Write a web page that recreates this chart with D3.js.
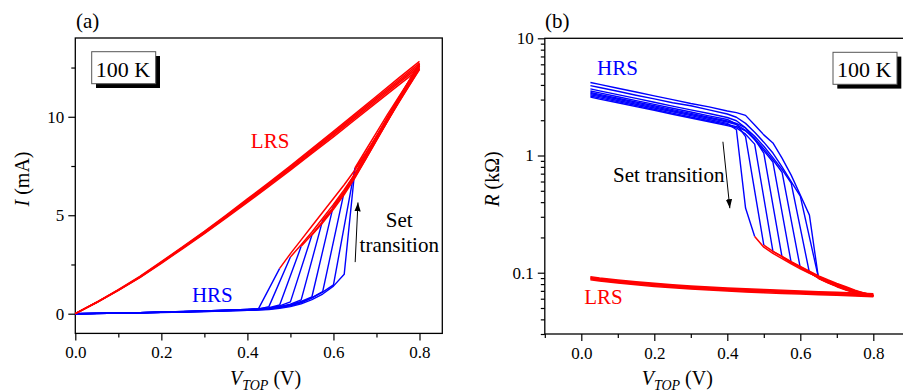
<!DOCTYPE html>
<html lang="en">
<head>
  <meta charset="UTF-8">
  <style>
    body { margin: 0; background: #fff; }
    svg { display: block; font-family: "Liberation Serif", "Times New Roman", serif; }
    .axis path { display: none; }
    .axis line { stroke: #000; stroke-width: 1.2; }
    .axis text { font-size: 17px; font-family: "Liberation Serif", serif; fill: #000; }
    .frame { fill: none; stroke: #000; stroke-width: 1.3; }
    .hrs { fill: none; stroke: #0000ff; stroke-width: 1.4; stroke-linejoin: round; }
    .lrs { fill: none; stroke: #ff0000; stroke-width: 1.5; stroke-linejoin: round; }
    .note { font-size: 21px; }
  </style>
</head>
<body>
  <svg width="903" height="392"></svg>
  <script src="https://cdnjs.cloudflare.com/ajax/libs/d3/7.8.5/d3.min.js"></script>
  <script>
    // shared voltage grids (V)
    const jumpVolts = [0.475, 0.5, 0.525, 0.55, 0.575, 0.6, 0.625, 0.65, 0.65]
    const setVolts = [0.475, 0.5, 0.525, 0.55, 0.575, 0.6, 0.625, 0.65, 0.675, 0.7, 0.725, 0.75, 0.775, 0.8]

    // panel (a): current (mA)
    const hrsVoltsA = [0, 0.05, 0.1, 0.15, 0.2, 0.25, 0.3, 0.35, 0.4, 0.425, 0.45, 0.475, 0.5, 0.525, 0.55, 0.575, 0.6, 0.625]
    const hrsCurrent = [
      [0, 0.016, 0.034, 0.055, 0.079, 0.106, 0.137, 0.172, 0.213, 0.22, 1.26],
      [0, 0.015, 0.032, 0.051, 0.073, 0.099, 0.128, 0.161, 0.197, 0.23, 0.36],
      [0, 0.017, 0.035, 0.057, 0.082, 0.111, 0.144, 0.180, 0.222, 0.25, 0.31, 0.44],
      [0, 0.014, 0.030, 0.049, 0.070, 0.095, 0.122, 0.154, 0.190, 0.21, 0.27, 0.40, 0.60],
      [0, 0.015, 0.033, 0.054, 0.077, 0.104, 0.134, 0.168, 0.207, 0.23, 0.28, 0.36, 0.48, 0.70],
      [0, 0.016, 0.035, 0.056, 0.081, 0.109, 0.141, 0.177, 0.217, 0.24, 0.28, 0.35, 0.46, 0.62, 0.86],
      [0, 0.015, 0.032, 0.052, 0.075, 0.102, 0.131, 0.165, 0.203, 0.23, 0.26, 0.33, 0.43, 0.58, 0.82, 1.12],
      [0, 0.013, 0.028, 0.046, 0.066, 0.089, 0.115, 0.144, 0.177, 0.20, 0.24, 0.31, 0.40, 0.55, 0.80, 1.10, 1.46],
      [0, 0.012, 0.027, 0.043, 0.062, 0.083, 0.108, 0.136, 0.167, 0.18, 0.21, 0.27, 0.36, 0.50, 0.72, 1.00, 1.40, 2.00]
    ]
    const setCurrent = [
      [2.30, 3.05, 3.75, 4.45, 5.15, 5.85, 6.55, 7.30, 8.10, 8.95, 9.85, 10.75, 11.65, 12.50],
      [2.88, 3.50, 4.15, 4.85, 5.55, 6.30, 7.10, 7.95, 8.85, 9.75, 10.65, 11.55, 12.45],
      [3.42, 4.02, 4.68, 5.40, 6.15, 6.95, 7.85, 8.80, 9.75, 10.70, 11.65, 12.60],
      [4.00, 4.62, 5.30, 6.05, 6.90, 7.85, 8.80, 9.75, 10.70, 11.65, 12.60],
      [4.75, 5.40, 6.15, 7.05, 8.00, 8.95, 9.90, 10.85, 11.80, 12.70],
      [5.50, 6.20, 7.10, 8.05, 9.00, 9.95, 10.90, 11.80, 12.70],
      [6.20, 7.10, 8.05, 9.00, 9.95, 10.85, 11.75, 12.60],
      [7.40, 8.30, 9.20, 10.10, 10.95, 11.80, 12.60],
      [7.35, 8.15, 9.00, 9.85, 10.70, 11.55, 12.40]
    ]
    const lrsVoltsA = [0, 0.05, 0.1, 0.15, 0.2, 0.25, 0.3, 0.35, 0.4, 0.45, 0.5, 0.55, 0.6, 0.65, 0.7, 0.75, 0.8]
    const lrsCurrent = [
      [0, 0.57, 1.18, 1.83, 2.56, 3.31, 4.06, 4.85, 5.65, 6.46, 7.29, 8.14, 8.98, 9.85, 10.72, 11.58, 12.43],
      [0, 0.58, 1.19, 1.85, 2.58, 3.34, 4.09, 4.89, 5.70, 6.51, 7.35, 8.20, 9.06, 9.93, 10.80, 11.68, 12.53],
      [0, 0.58, 1.20, 1.86, 2.60, 3.36, 4.12, 4.92, 5.74, 6.56, 7.40, 8.26, 9.12, 10.00, 10.88, 11.76, 12.62],
      [0, 0.58, 1.21, 1.87, 2.62, 3.38, 4.15, 4.95, 5.78, 6.61, 7.45, 8.32, 9.18, 10.07, 10.96, 11.84, 12.71],
      [0, 0.59, 1.22, 1.89, 2.64, 3.41, 4.18, 4.99, 5.83, 6.66, 7.51, 8.38, 9.26, 10.15, 11.04, 11.94, 12.81]
    ]

    // panel (b): resistance (kOhm)
    const hrsVoltsB = [0.025, 0.05, 0.1, 0.15, 0.2, 0.25, 0.3, 0.35, 0.4, 0.425, 0.45, 0.475, 0.5, 0.525, 0.55, 0.575, 0.6, 0.625]
    const hrsResistance = [
      [3.30, 3.18, 2.95, 2.74, 2.54, 2.36, 2.19, 2.03, 1.88, 1.66, 0.356],
      [3.55, 3.42, 3.17, 2.94, 2.73, 2.53, 2.35, 2.18, 2.03, 1.85, 1.45],
      [3.15, 3.03, 2.82, 2.61, 2.43, 2.25, 2.09, 1.94, 1.80, 1.72, 1.52, 1.25],
      [3.70, 3.56, 3.31, 3.07, 2.85, 2.64, 2.45, 2.28, 2.11, 1.98, 1.72, 1.38, 1.05],
      [3.38, 3.25, 3.02, 2.80, 2.60, 2.41, 2.24, 2.08, 1.93, 1.84, 1.64, 1.36, 1.10, 0.88],
      [3.22, 3.10, 2.88, 2.67, 2.48, 2.30, 2.13, 1.98, 1.84, 1.76, 1.62, 1.40, 1.14, 0.92, 0.72],
      [3.45, 3.32, 3.08, 2.86, 2.66, 2.46, 2.29, 2.12, 1.97, 1.88, 1.72, 1.46, 1.20, 0.96, 0.76, 0.58],
      [3.95, 3.80, 3.53, 3.27, 3.04, 2.82, 2.66, 2.45, 2.26, 2.12, 1.88, 1.58, 1.30, 1.05, 0.80, 0.60, 0.45],
      [4.20, 4.04, 3.75, 3.48, 3.23, 3.00, 2.78, 2.60, 2.40, 2.32, 2.20, 1.82, 1.50, 1.28, 0.95, 0.68, 0.46, 0.31]
    ]
    const setResistance = [
      [0.204, 0.165, 0.146, 0.132, 0.119, 0.108, 0.099, 0.092, 0.085, 0.079, 0.074, 0.070, 0.066, 0.0635],
      [0.172, 0.152, 0.137, 0.123, 0.112, 0.102, 0.093, 0.086, 0.080, 0.075, 0.070, 0.067, 0.064],
      [0.152, 0.138, 0.124, 0.113, 0.103, 0.094, 0.087, 0.081, 0.076, 0.071, 0.067, 0.064],
      [0.136, 0.122, 0.111, 0.101, 0.092, 0.085, 0.079, 0.074, 0.070, 0.066, 0.0635],
      [0.122, 0.111, 0.100, 0.091, 0.084, 0.078, 0.073, 0.069, 0.066, 0.063],
      [0.110, 0.100, 0.090, 0.083, 0.077, 0.072, 0.068, 0.065, 0.0635],
      [0.100, 0.090, 0.083, 0.077, 0.072, 0.068, 0.065, 0.0635],
      [0.090, 0.083, 0.077, 0.072, 0.068, 0.065, 0.064],
      [0.089, 0.082, 0.076, 0.071, 0.067, 0.064, 0.0632]
    ]
    const lrsVoltsB = [0.025, 0.05, 0.1, 0.15, 0.2, 0.25, 0.3, 0.35, 0.4, 0.45, 0.5, 0.55, 0.6, 0.65, 0.7, 0.75, 0.8]
    const lrsResistance = [
      [0.0872, 0.0849, 0.0816, 0.0788, 0.0764, 0.0744, 0.0726, 0.0711, 0.0697, 0.0686, 0.0676, 0.0666, 0.0658, 0.0649, 0.0641, 0.0632, 0.0625],
      [0.0886, 0.0862, 0.0828, 0.0800, 0.0776, 0.0755, 0.0737, 0.0722, 0.0708, 0.0696, 0.0687, 0.0677, 0.0668, 0.0659, 0.0651, 0.0642, 0.0634],
      [0.0899, 0.0875, 0.0841, 0.0812, 0.0788, 0.0767, 0.0748, 0.0733, 0.0719, 0.0707, 0.0697, 0.0687, 0.0678, 0.0669, 0.0661, 0.0652, 0.0644],
      [0.0912, 0.0888, 0.0854, 0.0824, 0.0800, 0.0779, 0.0759, 0.0744, 0.0730, 0.0718, 0.0707, 0.0697, 0.0688, 0.0679, 0.0671, 0.0662, 0.0654],
      [0.0926, 0.0901, 0.0866, 0.0836, 0.0812, 0.0790, 0.0770, 0.0755, 0.0741, 0.0728, 0.0718, 0.0708, 0.0698, 0.0689, 0.0681, 0.0672, 0.0663]
    ]

    // tick values
    const xMajor = [0, 0.2, 0.4, 0.6, 0.8]
    const xMinorA = [0.1, 0.3, 0.5, 0.7]
    const xMinorB = [-0.1, 0.1, 0.3, 0.5, 0.7]
    const yMajorA = [0, 5, 10]
    const yMinorA = [2.5, 7.5, 12.5]
    const yMajorB = [0.1, 1, 10]
    const yMinorB = [0.03, 0.04, 0.05, 0.06, 0.07, 0.08, 0.09, 0.2, 0.3, 0.4, 0.5, 0.6, 0.7, 0.8, 0.9, 2, 3, 4, 5, 6, 7, 8, 9]

    const svg = d3.select('svg')

    const xA = d3.scaleLinear().domain([0, 0.853]).range([75.3, 442.3])
    const yA = d3.scaleLinear().domain([-1, 14]).range([333.4, 38])
    const xB = d3.scaleLinear().domain([-0.1, 0.9]).range([544.8, 909.8])
    const yB = d3.scaleLog().domain([0.03, 10]).range([334, 38.3])

    svg.append('defs').append('marker')
        .attr('id', 'head')
        .attr('viewBox', '0 0 10 10')
        .attr('refX', 10).attr('refY', 5)
        .attr('markerWidth', 9).attr('markerHeight', 9)
        .attr('markerUnits', 'userSpaceOnUse')
        .attr('orient', 'auto')
      .append('path')
        .attr('d', 'M0,1.5 L10,5 L0,8.5 z')
        .attr('fill', '#000')

    function axes(x, y, yMajor, xMinor, yMinor, yFormat) {
      const [x0] = x.range(), [y0] = y.range()
      svg.append('g').attr('class', 'axis')
          .attr('transform', `translate(0,${y0})`)
          .call(d3.axisBottom(x).tickValues(xMajor).tickFormat(d3.format('.1f'))
            .tickSizeInner(7).tickSizeOuter(0).tickPadding(6))
      svg.append('g').attr('class', 'axis')
          .attr('transform', `translate(0,${y0})`)
          .call(d3.axisBottom(x).tickValues(xMinor).tickFormat('').tickSizeInner(4).tickSizeOuter(0))
      svg.append('g').attr('class', 'axis')
          .attr('transform', `translate(${x0},0)`)
          .call(d3.axisLeft(y).tickValues(yMajor).tickFormat(yFormat)
            .tickSizeInner(7).tickSizeOuter(0).tickPadding(4))
      svg.append('g').attr('class', 'axis')
          .attr('transform', `translate(${x0},0)`)
          .call(d3.axisLeft(y).tickValues(yMinor).tickFormat('').tickSizeInner(4).tickSizeOuter(0))
      svg.append('rect').attr('class', 'frame')
          .attr('x', x0).attr('y', y.range()[1])
          .attr('width', x.range()[1] - x0).attr('height', y0 - y.range()[1])
    }

    axes(xA, yA, yMajorA, xMinorA, yMinorA, d3.format('d'))
    axes(xB, yB, yMajorB, xMinorB, yMinorB, d => String(d))

    const lineA = d3.line().x(d => xA(d[0])).y(d => yA(d[1]))
    const lineB = d3.line().x(d => xB(d[0])).y(d => yB(d[1]))

    function setStart(k) {
      return setVolts.findIndex(v => Math.abs(v - jumpVolts[k]) < 1e-6)
    }

    // blue: HRS sweep up to the jump; red: set branch and LRS return
    function drawCycles(line, hrsVolts, hrs, set, lrsVolts, lrs) {
      const g = svg.append('g')
      hrs.forEach((vals, k) => {
        const pts = vals.map((v, i) => [hrsVolts[i], v])
        pts.push([jumpVolts[k], set[k][0]])
        g.append('path').attr('class', 'hrs').attr('d', line(pts))
      })
      set.forEach((vals, k) => {
        const s = setStart(k)
        g.append('path').attr('class', 'lrs')
            .attr('d', line(vals.map((v, i) => [setVolts[s + i], v])))
      })
      lrs.forEach(vals => {
        g.append('path').attr('class', 'lrs')
            .attr('d', line(vals.map((v, i) => [lrsVolts[i], v])))
      })
    }

    drawCycles(lineA, hrsVoltsA, hrsCurrent, setCurrent, lrsVoltsA, lrsCurrent)
    drawCycles(lineB, hrsVoltsB, hrsResistance, setResistance, lrsVoltsB, lrsResistance)

    // temperature boxes with drop shadow
    function tempBox(x, y) {
      svg.append('rect').attr('x', x + 4.3).attr('y', y + 4.3).attr('width', 64).attr('height', 32).attr('fill', '#000')
      svg.append('rect').attr('x', x).attr('y', y).attr('width', 64).attr('height', 32)
          .attr('fill', '#fff').attr('stroke', '#555').attr('stroke-width', 1)
      svg.append('text').attr('x', x + 4).attr('y', y + 25).attr('font-size', 22).text('100 K')
    }
    tempBox(91.7, 51.7)
    tempBox(833, 52.3)

    svg.append('text').attr('x', 76).attr('y', 28).attr('font-size', 21).text('(a)')
    svg.append('text').attr('x', 545).attr('y', 28).attr('font-size', 21).text('(b)')

    svg.append('text').attr('class', 'note').attr('fill', '#ff0000')
        .attr('x', xA(0.408)).attr('y', yA(8.4)).text('LRS')
    svg.append('text').attr('class', 'note').attr('fill', '#0000ff')
        .attr('x', xA(0.271)).attr('y', yA(0.6)).text('HRS')
    svg.append('text').attr('class', 'note').attr('fill', '#0000ff')
        .attr('x', xB(0.043)).attr('y', yB(4.9)).text('HRS')
    svg.append('text').attr('class', 'note').attr('fill', '#ff0000')
        .attr('x', xB(0.008)).attr('y', yB(0.0546)).text('LRS')

    svg.append('text').attr('class', 'note').attr('text-anchor', 'middle')
        .attr('x', xA(0.753)).attr('y', yA(4.42)).text('Set')
    svg.append('text').attr('class', 'note').attr('text-anchor', 'middle')
        .attr('x', xA(0.753)).attr('y', yA(3.12)).text('transition')
    svg.append('text').attr('class', 'note')
        .attr('x', xB(0.087)).attr('y', yB(0.59)).text('Set transition')

    svg.append('line').attr('x1', xA(0.6505)).attr('y1', yA(2.62))
        .attr('x2', xA(0.657)).attr('y2', yA(5.65))
        .attr('stroke', '#000').attr('stroke-width', 1).attr('marker-end', 'url(#head)')
    svg.append('line').attr('x1', xB(0.388)).attr('y1', yB(1.31))
        .attr('x2', xB(0.407)).attr('y2', yB(0.355))
        .attr('stroke', '#000').attr('stroke-width', 1).attr('marker-end', 'url(#head)')

    // axis titles
    function xTitle(x) {
      const t = svg.append('text').attr('x', x).attr('y', 385).attr('font-size', 20)
      t.append('tspan').attr('font-style', 'italic').text('V')
      t.append('tspan').attr('font-style', 'italic').attr('font-size', 14).attr('dy', 5).text('TOP')
      t.append('tspan').attr('dy', -5).text(' (V)')
    }
    xTitle(230)
    xTitle(641.7)

    function yTitle(x, sym, unit) {
      const t = svg.append('text').attr('text-anchor', 'middle').attr('font-size', 20)
          .attr('transform', `translate(${x},179) rotate(-90)`)
      t.append('tspan').attr('font-style', 'italic').text(sym)
      t.append('tspan').text(unit)
    }
    yTitle(29, 'I', ' (mA)')
    yTitle(499, 'R', ' (k\u03A9)')
  </script>
</body>
</html>
